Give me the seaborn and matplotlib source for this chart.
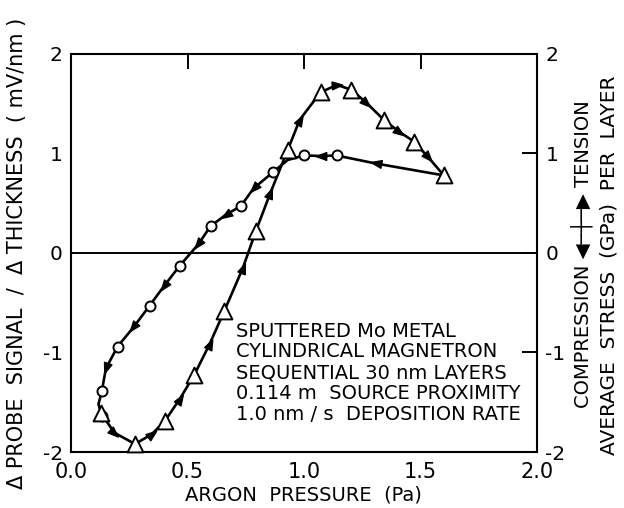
import numpy as np
import matplotlib
matplotlib.use("Agg")
import matplotlib.pyplot as plt
from matplotlib.markers import MarkerStyle
from matplotlib.path import Path
from matplotlib.transforms import Affine2D
import seaborn as sns

# increasing-pressure sweep (triangles)
up_p = [0.129, 0.186, 0.275, 0.347, 0.404, 0.466, 0.529, 0.595, 0.658, 0.737, 0.794, 0.856,
        0.930, 0.982, 1.071, 1.142, 1.203, 1.268, 1.343, 1.408, 1.472, 1.534, 1.600]
up_s = [-1.61, -1.806, -1.92, -1.82, -1.685, -1.47, -1.226, -0.915, -0.583, -0.154, 0.224, 0.606,
        1.035, 1.34, 1.615, 1.69, 1.64, 1.51, 1.337, 1.22, 1.12, 0.96, 0.78]
up_kind = ["tri", "arrow"] * 11 + ["tri"]

# decreasing-pressure sweep (circles)
down_p = [1.600, 1.307, 1.140, 1.074, 0.999, 0.930, 0.866, 0.784, 0.728, 0.665, 0.599,
          0.547, 0.466, 0.400, 0.337, 0.268, 0.200, 0.150, 0.132, 0.118, 0.132]
down_s = [0.78, 0.90, 0.98, 0.975, 0.98, 0.935, 0.81, 0.65, 0.47, 0.385, 0.27,
          0.09, -0.13, -0.33, -0.53, -0.747, -0.94, -1.16, -1.39, -1.52, -1.64]
down_kind = ["", "arrow", "circ", "arrow", "circ", "", "circ", "arrow", "circ", "arrow", "circ",
             "arrow", "circ", "arrow", "circ", "arrow", "circ", "arrow", "circ", "", "circ"]

x_ticks = [0.0, 0.5, 1.0, 1.5, 2.0]
x_labels = ["0.0", "0.5", "1.0", "1.5", "2.0"]
y_ticks = [-2, -1, 0, 1, 2]
y_labels = ["-2", "-1", "0", "1", "2"]

info_lines = ["SPUTTERED Mo METAL",
              "CYLINDRICAL MAGNETRON",
              "SEQUENTIAL 30 nm LAYERS",
              "0.114 m  SOURCE PROXIMITY",
              "1.0 nm / s  DEPOSITION RATE"]

sns.set_style("white")
plt.rcParams["font.family"] = ["DejaVu Sans"]
plt.rcParams["text.color"] = "black"

fig = plt.figure(figsize=(6.24, 5.08), dpi=100)
ax = fig.add_axes([71 / 624, 1 - 452 / 508, 466 / 624, 398 / 508])
ax.set_xlim(0, 2)
ax.set_ylim(-2, 2)

ax.axhline(0, color="black", lw=1.4, zorder=1)

for p, s in [(up_p, up_s), (down_p, down_s)]:
    sns.lineplot(x=p, y=s, sort=False, estimator=None, color="black", lw=1.9, ax=ax, zorder=2)

# arrowheads pointing along the sweep direction
arrow_path = Path([(1, 0), (-1, 0.75), (-1, -0.75), (1, 0)],
                  [Path.MOVETO, Path.LINETO, Path.LINETO, Path.CLOSEPOLY])
for p, s, kind in [(up_p, up_s, up_kind), (down_p, down_s, down_kind)]:
    pts = ax.transData.transform(np.column_stack([p, s]))
    for i, k in enumerate(kind):
        if k != "arrow":
            continue
        d = pts[i + 1] - pts[i - 1]
        ang = np.degrees(np.arctan2(d[1], d[0]))
        m = MarkerStyle(arrow_path, transform=Affine2D().rotate_deg(ang))
        ax.plot(p[i], s[i], marker=m, ms=7.5, color="black", ls="none", zorder=3)

tri_p = [x for x, k in zip(up_p, up_kind) if k == "tri"]
tri_s = [y for y, k in zip(up_s, up_kind) if k == "tri"]
circ_p = [x for x, k in zip(down_p, down_kind) if k == "circ"]
circ_s = [y for y, k in zip(down_s, down_kind) if k == "circ"]
sns.scatterplot(x=circ_p, y=circ_s, marker="o", s=52, facecolor="white",
                edgecolor="black", linewidth=1.4, ax=ax, zorder=4, clip_on=False)
sns.scatterplot(x=tri_p, y=tri_s, marker="^", s=130, facecolor="white",
                edgecolor="black", linewidth=1.4, ax=ax, zorder=5, clip_on=False)

ax.set_xticks(x_ticks)
ax.set_xticklabels(x_labels, fontsize=15)
ax.set_yticks(y_ticks)
ax.set_yticklabels(y_labels, fontsize=14.5)
ax.tick_params(direction="in", length=11, width=1.4, top=True, right=True,
               labelright=True, pad=6, colors="black")
ax.tick_params(axis="x", pad=7)
for sp in ax.spines.values():
    sp.set_linewidth(1.5)
    sp.set_color("black")

ax.text(0.709, -0.69, "\n".join(info_lines), fontsize=14, va="top", ha="left",
        linespacing=1.12)

fig.text(0.487, 0.025, "ARGON  PRESSURE  (Pa)", fontsize=14, ha="center", va="center")
fig.text(0.027, 0.502, "Δ PROBE  SIGNAL  /  Δ THICKNESS  ( mV/nm )", fontsize=15,
         rotation=90, ha="center", va="center")
fig.text(0.932, 0.50, "COMPRESSION ◀─┼─▶ TENSION", fontsize=14,
         rotation=90, ha="center", va="center")
fig.text(0.976, 0.478, "AVERAGE  STRESS  (GPa)  PER  LAYER", fontsize=14.5,
         rotation=90, ha="center", va="center")

fig.savefig("out.png", dpi=100)
